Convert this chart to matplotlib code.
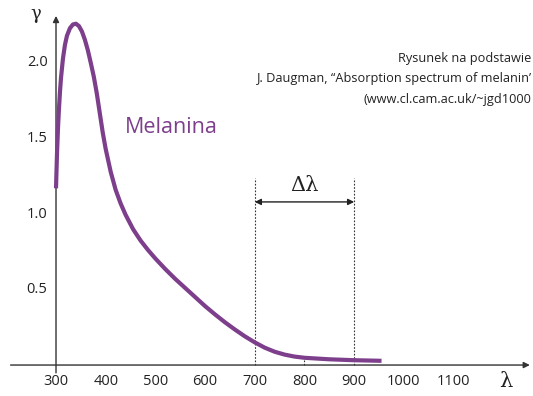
import numpy as np
import matplotlib.pyplot as plt

# data
wavelength = [300, 302, 304, 306, 308, 310, 314, 318, 322, 328, 334, 340, 346, 352,
              358, 364, 370, 376, 382, 388, 394, 400, 410, 420, 430, 440, 455, 470,
              485, 500, 520, 540, 560, 580, 600, 620, 640, 660, 680, 700, 720, 740,
              760, 780, 800, 850, 900, 955]
gamma = [1.17, 1.40, 1.57, 1.70, 1.81, 1.90, 2.03, 2.12, 2.18, 2.23, 2.255, 2.26, 2.245, 2.21,
         2.155, 2.085, 2.0, 1.91, 1.80, 1.67, 1.54, 1.43, 1.28, 1.16, 1.07, 0.995, 0.90, 0.825,
         0.762, 0.705, 0.635, 0.57, 0.51, 0.45, 0.39, 0.335, 0.283, 0.235, 0.19, 0.15, 0.115, 0.088,
         0.069, 0.056, 0.048, 0.038, 0.032, 0.028]
x_ticks = [300, 400, 500, 600, 700, 800, 900, 1000, 1100]
y_ticks = [0.5, 1.0, 1.5, 2.0]
y_labels = ['0.5', '1.0', '1.5', '2.0']
band = [700, 900]
note = ['Rysunek na podstawie',
        'J. Daugman, \u201cAbsorption spectrum of melanin\u2019',
        '(www.cl.cam.ac.uk/~jgd1000']

purple = '#7d3f8c'
plt.rcParams['font.family'] = ['Open Sans', 'DejaVu Sans']

fig = plt.figure(figsize=(5.33, 3.96), dpi=100)
ax = fig.add_axes([0, 0, 1, 1])
ax.set_xlim(187.3, 1259.8)
ax.set_ylim(-0.205, 2.417)
ax.axis('off')

# axes with arrows
ax.annotate('', xy=(1259, 0), xytext=(203, 0),
            arrowprops=dict(arrowstyle='-|>', color='#333333', lw=1, mutation_scale=9))
ax.annotate('', xy=(300, 2.33), xytext=(300, -0.07),
            arrowprops=dict(arrowstyle='-|>', color='#333333', lw=1, mutation_scale=9))

# tick labels
for t in x_ticks:
    ax.text(t, -0.11, str(t), ha='center', va='center', fontsize=10.5, color='#222222')
for t, l in zip(y_ticks, y_labels):
    ax.text(283, t, l, ha='right', va='center', fontsize=10.5, color='#222222')
ax.text(1205, -0.11, '\u03bb', ha='center', va='center', fontsize=15,
        family='DejaVu Serif', color='#222222')
ax.text(260, 2.325, '\u03b3', ha='center', va='center', fontsize=13,
        family='DejaVu Serif', color='#222222')

# curve
ax.plot(wavelength, gamma, color=purple, lw=3, solid_capstyle='butt',
        solid_joinstyle='round', zorder=3)
ax.text(438, 1.57, 'Melanina', ha='left', va='center', fontsize=15.5, color=purple)

# band markers
for b in band:
    ax.plot([b, b], [0, 1.24], ls=(0, (1.5, 1.5)), color='#333333', lw=0.8)
ax.plot([800, 800], [0, 0.048], ls=(0, (1.5, 1.5)), color='#333333', lw=0.8)
ax.annotate('', xy=(band[0], 1.08), xytext=(band[1], 1.08),
            arrowprops=dict(arrowstyle='<|-|>', color='#222222', lw=1, mutation_scale=9,
                            shrinkA=0, shrinkB=0))
ax.text(sum(band) / 2, 1.19, '\u0394\u03bb', ha='center', va='center', fontsize=15,
        family='DejaVu Serif', color='#222222')

# source note
for i, line in enumerate(note):
    ax.text(1257, 2.03 - i * 0.135, line, ha='right', va='center', fontsize=9.2,
            color='#222222')

fig.savefig('out.png', dpi=100)
